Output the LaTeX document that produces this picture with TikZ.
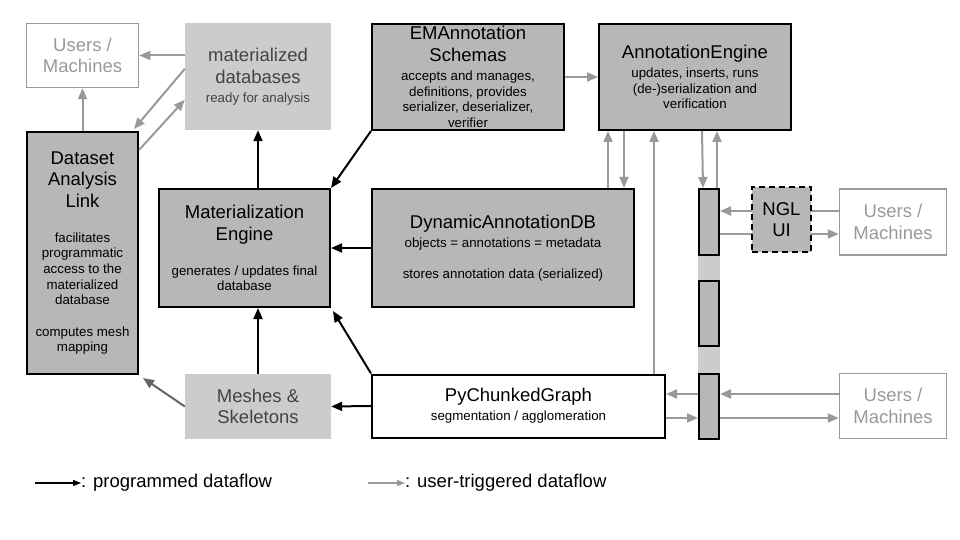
\documentclass[tikz,border=0pt]{standalone}
\usepackage{fontspec}
\setmainfont{Liberation Sans}
\usetikzlibrary{arrows.meta}
\definecolor{darkfill}{HTML}{B7B7B7}
\definecolor{lightfill}{HTML}{CCCCCC}
\definecolor{arrowgray}{HTML}{999999}
\definecolor{textgray}{HTML}{434343}
\definecolor{meshgray}{HTML}{666666}
\newcommand{\ttl}[1]{{\fontsize{18.5}{21.5}\selectfont #1}}
\tikzset{
	box/.style 2 args={rectangle,inner sep=0pt,align=center,minimum width=#1,minimum height=#2,font={\fontsize{13.3}{15.7}\selectfont\lineskiplimit=-20pt}},
	dbox/.style 2 args={box={#1}{#2},draw,line width=2pt,fill=darkfill},
	lbox/.style 2 args={box={#1}{#2},fill=lightfill,text=textgray},
	ubox/.style 2 args={box={#1}{#2},draw=arrowgray,line width=1.5pt,text=arrowgray},
	barr/.style={draw=black,line width=2pt,-{Triangle[length=11pt,width=9pt]}},
	garr/.style={draw=arrowgray,line width=2pt,-{Triangle[length=11pt,width=9pt]}}
}
\begin{document}
\begin{tikzpicture}[x=1pt,y=-1pt]
	\useasboundingbox (0,0) rectangle (960,540);

	\node [ubox={112pt}{64pt}] (um1) at (82.5,55.5) {\ttl{Users /}\\[5.8pt]\ttl{Machines}};
	\node [lbox={146pt}{107pt}] (mdb) at (258,76.5) {\ttl{materialized}\\[5.8pt]\ttl{databases}\\[3.3pt]ready for analysis};
	\node [dbox={111pt}{242pt}] (dal) at (82.5,253) {\ttl{Dataset}\\[5.8pt]\ttl{Analysis}\\[5.8pt]\ttl{Link}\\[19.3pt]facilitates\\programmatic\\access to the\\materialized\\database\\[15.7pt]computes mesh\\mapping};
	\node [dbox={171pt}{118pt}] (me) at (244.5,248) {\ttl{Materialization}\\[5.8pt]\ttl{Engine}\\[19.3pt]generates / updates final\\database};
	\node [lbox={146pt}{65pt}] (mesh) at (258,406.5) {\ttl{Meshes \&}\\[5.8pt]\ttl{Skeletons}};
	\node [dbox={192pt}{106pt}] (ema) at (468,77) {\ttl{EMAnnotation}\\[5.8pt]\ttl{Schemas}\\[3.3pt]accepts and manages,\\definitions, provides\\serializer, deserializer,\\verifier};
	\node [dbox={192pt}{106pt}] (ae) at (695,77) {\ttl{AnnotationEngine}\\[3.3pt]updates, inserts, runs\\(de-)serialization and\\verification};
	\node [dbox={262pt}{118pt}] (dadb) at (503,248) {\ttl{DynamicAnnotationDB}\\[3.3pt]objects = annotations = metadata\\[15.7pt]stores annotation data (serialized)};
	\node [dbox={293pt}{63pt},fill=white] (pcg) at (518.5,406) {\ttl{PyChunkedGraph}\\[3.3pt]segmentation / agglomeration};

	\node [box={22pt}{251pt},fill=lightfill] (bus) at (709,313.5) {};
	\node [dbox={20pt}{66pt}] (seg1) at (709,222) {};
	\node [dbox={20pt}{65pt}] (seg2) at (709,313.5) {};
	\node [dbox={20pt}{65pt}] (seg3) at (709,406) {};

	\node [ubox={107pt}{66pt}] (um2) at (893,222) {\ttl{Users /}\\[5.8pt]\ttl{Machines}};
	\node [ubox={107pt}{65pt}] (um3) at (893,406) {\ttl{Users /}\\[5.8pt]\ttl{Machines}};

	\draw[barr] (me.north -| mdb.south) -- (mdb.south);
	\draw[barr] (ema.south west) -- (me.north east);
	\draw[barr] (dadb.west) -- (me.east);
	\draw[barr] (mesh.north) -- (me.south -| mesh.north);
	\draw[barr] (pcg.north west) -- ([xshift=2pt,yshift=-3pt]me.south east);
	\draw[barr] (pcg.west) -- (mesh.east);

	\draw[garr] (mdb.west |- um1.east) -- (um1.east);
	\draw[garr] ([yshift=-46pt]mdb.north west) -- ([xshift=-5pt,yshift=2pt]dal.north east);
	\draw[garr] ([yshift=-19pt]dal.north east) -- ([yshift=-77pt]mdb.north west);
	\draw[garr] (dal.north) -- (um1.south);
	\draw[garr,draw=meshgray] (mesh.west) -- ([xshift=4pt,yshift=-3pt]dal.south east);
	\draw[garr] (ema.east) -- (ae.west);
	\draw[garr] ([xshift=-27pt]dadb.north east) -- ([xshift=10pt]ae.south west);
	\draw[garr] ([xshift=26pt]ae.south west) -- ([xshift=-11pt]dadb.north east);
	\draw[garr] ([xshift=-12pt]pcg.north east) -- ([xshift=56pt]ae.south west);
	\draw[garr] ([xshift=104pt]ae.south west) -- ([xshift=-6pt]seg1.north);
	\draw[garr] ([xshift=8pt]seg1.north) -- ([xshift=119pt]ae.south west);
	\draw[garr] ([yshift=11pt]um2.west) -- ([yshift=11pt]seg1.east);
	\draw[garr] ([yshift=-12pt]seg1.east) -- ([yshift=-12pt]um2.west);
	\draw[garr] ([yshift=12pt]um3.west) -- ([yshift=12pt]seg3.east);
	\draw[garr] ([yshift=-12pt]seg3.east) -- ([yshift=-12pt]um3.west);
	\draw[garr] ([yshift=12pt]seg3.west) -- ([yshift=12pt]pcg.east);
	\draw[garr] ([yshift=-12pt]pcg.east) -- ([yshift=-12pt]seg3.west);

	\node [dbox={59pt}{65pt},dashed,dash pattern=on 6pt off 4pt] (ngl) at (781.5,219.5) {\ttl{NGL}\\[5.8pt]\ttl{UI}};

	\coordinate (lg1) at (35,483);
	\node [anchor=west,inner sep=0pt,font=\fontsize{18.5}{21.5}\selectfont] (lgt1) at (81,483) {: programmed dataflow};
	\draw[line width=1.2pt,-{Triangle[length=8pt,width=6pt]}] (lg1) -- (lgt1.west);
	\coordinate (lg2) at (368,483);
	\node [anchor=west,inner sep=0pt,font=\fontsize{18.5}{21.5}\selectfont] (lgt2) at (405,483) {: user-triggered dataflow};
	\draw[line width=1.2pt,draw=arrowgray,-{Triangle[length=8pt,width=6pt]}] (lg2) -- (lgt2.west);
\end{tikzpicture}
\end{document}
